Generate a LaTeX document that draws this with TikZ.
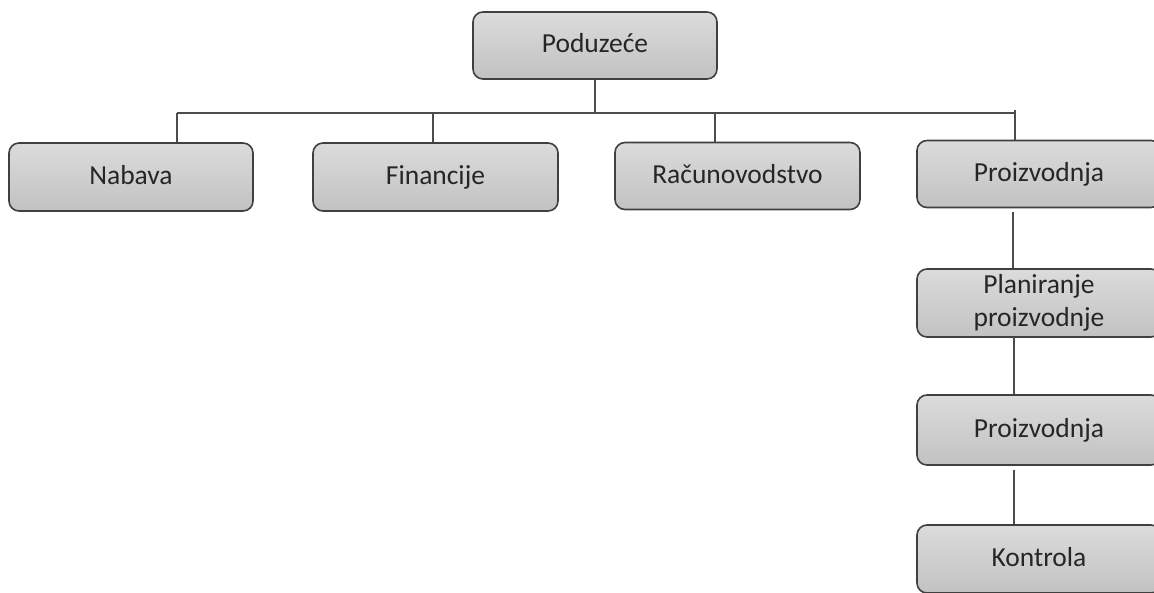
\documentclass[tikz,border=0pt]{standalone}
\usepackage{fontspec}
\setmainfont{Carlito}
\begin{document}
\begin{tikzpicture}[x=1pt,y=-1pt,
  box/.style={draw=black!75, line width=1.6pt, rounded corners=10pt,
    top color=black!14, bottom color=black!24, text=black!85,
    minimum width=244pt, inner sep=0pt, align=center,
    font=\fontsize{27.5}{33}\selectfont},
  onebox/.style={box, text height=19pt, text depth=5pt},
  link/.style={draw=black!70, line width=1.5pt}]
\useasboundingbox (0,0) rectangle (1154,592);
\clip (0,0) rectangle (1154,592);
\fill[white] (0,0) rectangle (1154,592);
\node[onebox, minimum height=67pt] (pod) at (595,45.5) {Poduzeće};
\node[onebox, minimum height=68pt] (nab) at (131,177) {Nabava};
\node[onebox, minimum height=68pt, minimum width=245pt] (fin) at (435.5,177) {Financije};
\node[onebox, minimum height=67pt, minimum width=245pt] (rac) at (737.5,176) {Računovodstvo};
\node[onebox, minimum height=67pt] (pro) at (1039,174) {Proizvodnja};
\node[box, minimum height=68pt] (pla) at (1039,303) {Planiranje\\proizvodnje};
\node[onebox, minimum height=70pt] (pro2) at (1039,430) {Proizvodnja};
\node[onebox, minimum height=68pt] (kon) at (1039,559) {Kontrola};
\coordinate (bL) at (177,113);
\coordinate (bR) at (1015,113);
\coordinate (bRt) at (1015,110);
\coordinate (bP) at (595,113);
\coordinate (bF) at (433,113);
\coordinate (bC) at (715,113);
\draw[link] (pod.south) -- (bP);
\draw[link] (bL) -- (bR);
\draw[link] (bL) -- (bL |- nab.north);
\draw[link] (bF) -- (bF |- fin.north);
\draw[link] (bC) -- (bC |- rac.north);
\draw[link] (bRt) -- (bRt |- pro.north);
\coordinate (v1) at (1013,212);
\coordinate (v2) at (1014,337);
\coordinate (v3) at (1014,470);
\draw[link] (v1) -- (v1 |- pla.north);
\draw[link] (v2) -- (v2 |- pro2.north);
\draw[link] (v3) -- (v3 |- kon.north);
\end{tikzpicture}
\end{document}
